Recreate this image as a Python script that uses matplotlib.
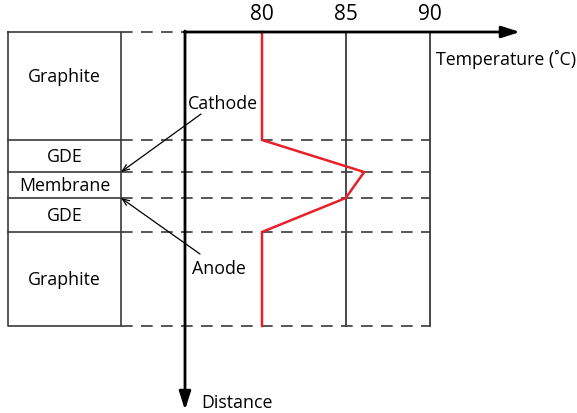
import matplotlib.pyplot as plt

plt.rcParams['font.family'] = ['Open Sans', 'DejaVu Sans']

# layer boundaries (distance from top of cell, arbitrary units)
boundaries = [0, 108, 140, 166, 200, 294]
layers = ['Graphite', 'GDE', 'Membrane', 'GDE', 'Graphite']
# temperature at each boundary (deg C)
temps = [80, 80, 86.1, 85, 80, 80]
ticks = [80, 85, 90]

fig = plt.figure(figsize=(5.77, 4.14), dpi=100)
ax = fig.add_axes([0, 0, 1, 1])
# x: temperature, 16.75 px per degree, 80 C at px 262
px_per_deg = 16.75
ax.set_xlim(80 - 262 / px_per_deg, 80 + (577 - 262) / px_per_deg)
ax.set_ylim(414 - 33, -33)
ax.axis('off')

def frac(px):
    return px / 577.0

def T(px):
    x0, x1 = ax.get_xlim()
    return x0 + frac(px) * (x1 - x0)

box_l, box_r = T(8), T(121)
t_axis = T(185)
dash = (0, (7, 5))
gray = '#3a3a3a'
fs = 12.8

# layer box
ax.plot([box_l, box_r, box_r, box_l, box_l],
        [boundaries[0], boundaries[0], boundaries[-1], boundaries[-1], boundaries[0]],
        color=gray, lw=1.2)
for b in boundaries[1:-1]:
    ax.plot([box_l, box_r], [b, b], color=gray, lw=1.2)
label_y = [(boundaries[i] + boundaries[i + 1]) / 2 for i in range(len(layers))]
label_y[0] = 44  # top label sits above centre in the original
for name, y in zip(layers, label_y):
    ax.text((box_l + box_r) / 2, y, name, ha='center', va='center', fontsize=fs)

# dashed guide lines
ax.plot([box_r, t_axis], [boundaries[0]] * 2, color=gray, lw=1.2, ls=dash)
for b in boundaries[1:]:
    ax.plot([box_r, ticks[-1]], [b, b], color=gray, lw=1.2, ls=dash)

# vertical reference lines at 85, 90
for t in ticks[1:]:
    ax.plot([t, t], [boundaries[0], boundaries[-1]], color=gray, lw=1.3)

# temperature profile
ax.plot(temps, boundaries, color='#e8202a', lw=1.8, zorder=3)

# axes arrows
ax.annotate('', xy=(T(520), boundaries[0]), xytext=(t_axis - 0.05, boundaries[0]),
            arrowprops=dict(arrowstyle='-|>,head_length=1.1,head_width=0.35',
                            color='black', lw=2, shrinkA=0, shrinkB=0))
ax.annotate('', xy=(t_axis, 378), xytext=(t_axis, boundaries[0] - 1),
            arrowprops=dict(arrowstyle='-|>,head_length=1.1,head_width=0.35',
                            color='black', lw=2, shrinkA=0, shrinkB=0))

for t in ticks:
    ax.text(t, -19, str(t), ha='center', va='center', fontsize=15)
ax.text(T(436), 26, 'Temperature (˚C)', ha='left', va='center', fontsize=fs)
ax.text(T(201), 370, 'Distance', ha='left', va='center', fontsize=fs)

# electrode annotations
ax.text(T(223), 71, 'Cathode', ha='center', va='center', fontsize=fs)
ax.annotate('', xy=(box_r, boundaries[2]), xytext=(T(201), 82),
            arrowprops=dict(arrowstyle='->,head_length=0.5,head_width=0.2',
                            color='black', lw=0.9, shrinkA=0, shrinkB=0))
ax.text(T(219), 236, 'Anode', ha='center', va='center', fontsize=fs)
ax.annotate('', xy=(box_r, boundaries[3]), xytext=(T(200), 222),
            arrowprops=dict(arrowstyle='->,head_length=0.5,head_width=0.2',
                            color='black', lw=0.9, shrinkA=0, shrinkB=0))

fig.savefig('out.png', dpi=100)
